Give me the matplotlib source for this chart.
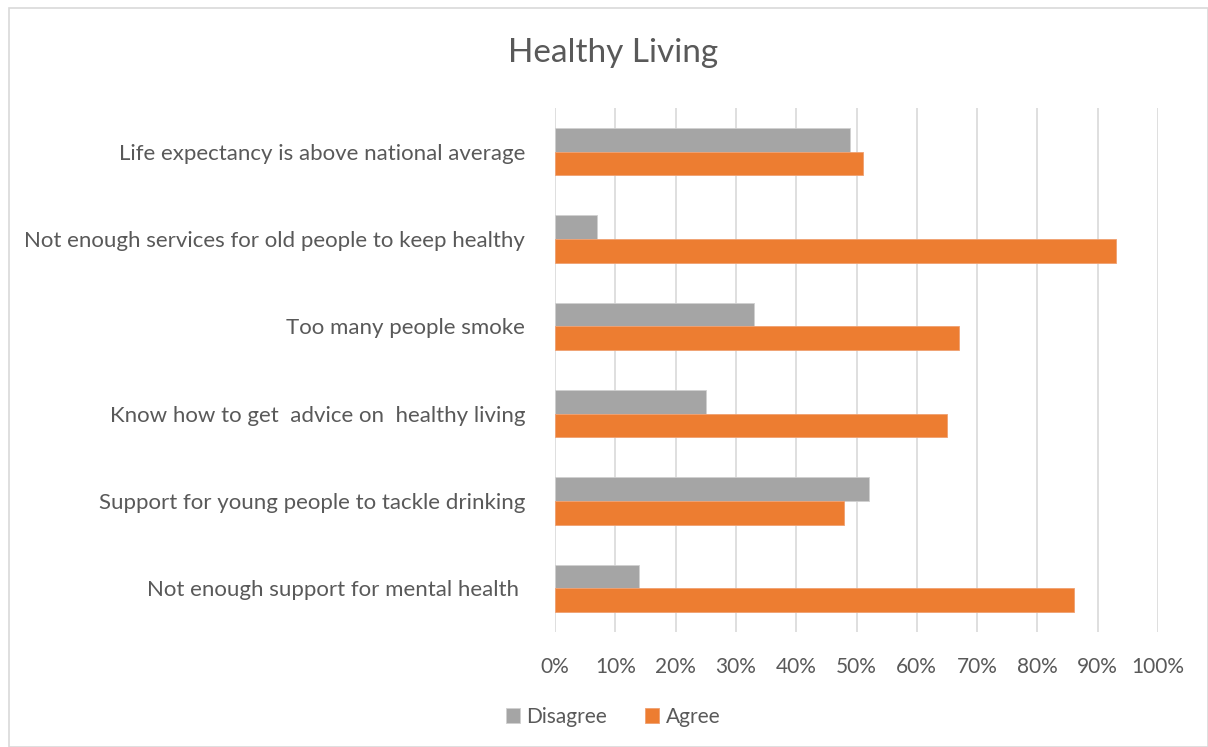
import matplotlib.pyplot as plt
import numpy as np
from matplotlib.patches import Rectangle

categories = [
    "Life expectancy is above national average",
    "Not enough services for old people to keep healthy",
    "Too many people smoke",
    "Know how to get  advice on  healthy living",
    "Support for young people to tackle drinking",
    "Not enough support for mental health ",
]
disagree = [49, 7, 33, 25, 52, 14]
agree = [51, 93, 67, 65, 48, 86]
ticks = [0, 10, 20, 30, 40, 50, 60, 70, 80, 90, 100]

grey = "#a5a5a5"
orange = "#ed7d31"
text_col = "#595959"

plt.rcParams['font.family'] = ['Lato', 'DejaVu Sans']

fig = plt.figure(figsize=(12.08, 7.47), dpi=100)
ax = fig.add_axes([555 / 1208, 1 - 632 / 747, 603 / 1208, (632 - 108) / 747])

y = np.arange(len(categories))
h = 0.27
ax.barh(y - h / 2, disagree, height=h, color=grey, label="Disagree",
        edgecolor="#d0d0d0", linewidth=0.6, zorder=3)
ax.barh(y + h / 2, agree, height=h, color=orange, label="Agree",
        edgecolor="#f0a070", linewidth=0.6, zorder=3)

ax.set_ylim(len(categories) - 0.5, -0.5)
ax.set_xlim(0, 100)
ax.set_xticks(ticks)
ax.set_xticklabels([f"{t}%" for t in ticks])
ax.set_yticks(y)
ax.set_yticklabels(categories)
ax.tick_params(axis='y', length=0, pad=21.5, labelsize=16, colors=text_col)
ax.tick_params(axis='x', length=0, pad=18, labelsize=15, colors=text_col)
ax.xaxis.grid(True, color="#d9d9d9", linewidth=1.2, zorder=0)
for s in ax.spines.values():
    s.set_visible(False)

fig.text(613 / 1208, 1 - 53 / 747, "Healthy Living", ha='center', va='center',
         fontsize=24, color=text_col)

leg = fig.legend(loc='center', bbox_to_anchor=(613 / 1208, 1 - 717 / 747), ncol=2,
                 frameon=False, fontsize=15, handlelength=0.7, handleheight=0.7,
                 handletextpad=0.3, columnspacing=1.8)
for t in leg.get_texts():
    t.set_color(text_col)

fig.patches.append(Rectangle((9 / 1208, 0), 1 - 9 / 1208, 1 - 8 / 747, transform=fig.transFigure,
                             fill=False, edgecolor="#d9d9d9", linewidth=1.2))

fig.savefig("out.png", dpi=100)
